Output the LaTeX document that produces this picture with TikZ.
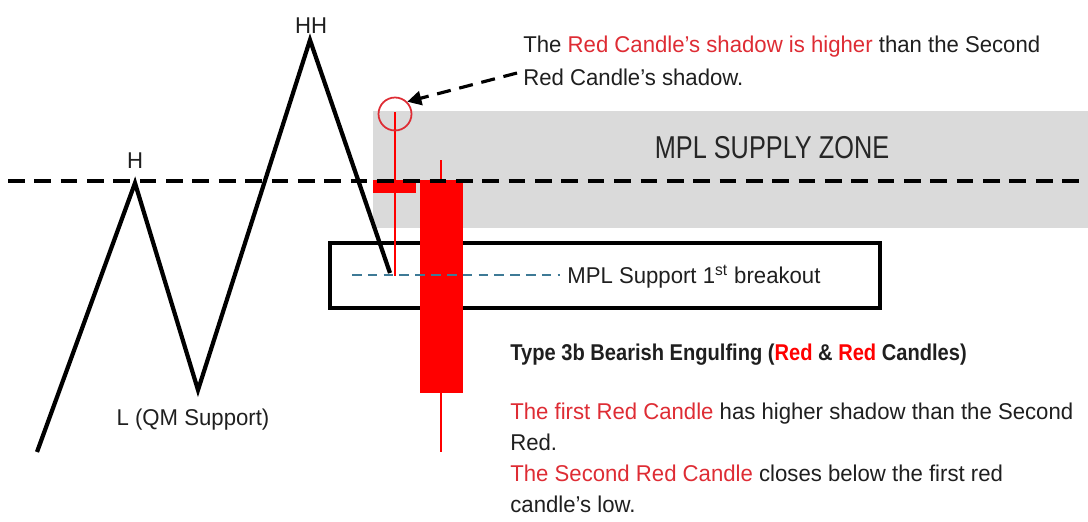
\documentclass[tikz,border=0pt]{standalone}
\usepackage{fontspec}
\setmainfont{Liberation Sans}[FakeStretch=0.97]
\newfontfamily\zonefont{Liberation Sans}[FakeStretch=0.8]
\newfontfamily\titlefont{Liberation Sans Bold}[FakeStretch=0.88]
\usepackage{xcolor}
\usetikzlibrary{arrows.meta,positioning}
\definecolor{candlered}{RGB}{255,0,0}
\definecolor{txtred}{RGB}{222,44,52}
\definecolor{zonegrey}{RGB}{218,218,218}
\definecolor{levelblue}{RGB}{62,122,150}
\newcommand{\rd}[1]{\textcolor{txtred}{#1}}

\begin{document}
\begin{tikzpicture}[x=0.02cm, y=-0.02cm,
  swing/.style={line width=2.4pt, line join=miter},
  level/.style={line width=1.8pt, dash pattern=on 9.5pt off 5.5pt},
  brk/.style={draw, line width=2.2pt, minimum width=11cm, minimum height=1.3cm, inner sep=0pt},
  body/.style={fill=candlered},
  wick/.style={draw=candlered, line width=0.8pt},
  ring/.style={circle, draw=txtred, line width=1pt, minimum size=0.66cm, inner sep=0pt},
  lbl/.style={font=\fontsize{13}{15}\selectfont, inner sep=0pt, text=black!88},
  note/.style={font=\fontsize{13}{18.7}\selectfont, align=left, inner sep=0pt, text=black!88},
  e/.style={-{Triangle[length=8pt,width=8pt]}, line width=1.8pt, dash pattern=on 8pt off 5pt}
]
  \useasboundingbox (0,0) rectangle (1088,521);
  % supply zone
  \fill[zonegrey] (373,111) rectangle (1088,228);
  \node[font=\zonefont\fontsize{18}{20}\selectfont, text=black!85] (zone) at (772,148) {MPL SUPPLY ZONE};
  % breakout box
  \node[brk] (box) at (605,275.5) {};
  % price swings
  \coordinate (start) at (37,452);
  \coordinate (h) at (135,183);
  \coordinate (l) at (198,390);
  \coordinate (hh) at (310,40);
  \coordinate (brkpt) at (390,273);
  \draw[swing] (start) -- (h) -- (l) -- (hh) -- (brkpt);
  \node[lbl, anchor=base] (hhlbl) at (311,33) {HH};
  \node[lbl, anchor=base] (hlbl) at (135,168) {H};
  \node[lbl, anchor=base] (llbl) at (193,425) {L (QM Support)};
  % candles
  \draw[wick] (395,112) -- (395,276);
  \fill[body] (373,180) rectangle (416,193);
  \draw[wick] (441,160) -- (441,452);
  \fill[body] (420,180) rectangle (463,393);
  % resistance level
  \draw[level] (8,181) -- (1088,181);
  % support breakout
  \node[lbl, anchor=base west] (brklbl) at (567,283) {MPL Support 1\textsuperscript{st} breakout};
  \coordinate (bl) at (352,275);
  \draw[levelblue, line width=0.9pt, dash pattern=on 5.5pt off 3.5pt, shorten >=4pt] (bl) -- (bl -| brklbl.west);
  % shadow callout
  \node[ring] (ring) at (395,114) {};
  \node[note, anchor=north west] (shadow) at (523,36)
    {The \rd{Red Candle’s shadow is higher} than the Second\\Red Candle’s shadow.};
  \coordinate (tail) at (517,73);
  \draw[e] (tail) -- (ring.north east);
  % pattern description
  \node[lbl, anchor=base west, font=\titlefont\fontsize{13}{15}\selectfont] (title) at (510,360)
    {Type 3b Bearish Engulfing (\textcolor{candlered}{Red} \& \textcolor{candlered}{Red} Candles)};
  \node[note, anchor=north west, font=\fontsize{13}{17.6}\selectfont] (desc) at (510,403)
    {\rd{The first Red Candle} has higher shadow than the Second\\
     Red.\\
     \rd{The Second Red Candle} closes below the first red\\
     candle’s low.};
\end{tikzpicture}
\end{document}
